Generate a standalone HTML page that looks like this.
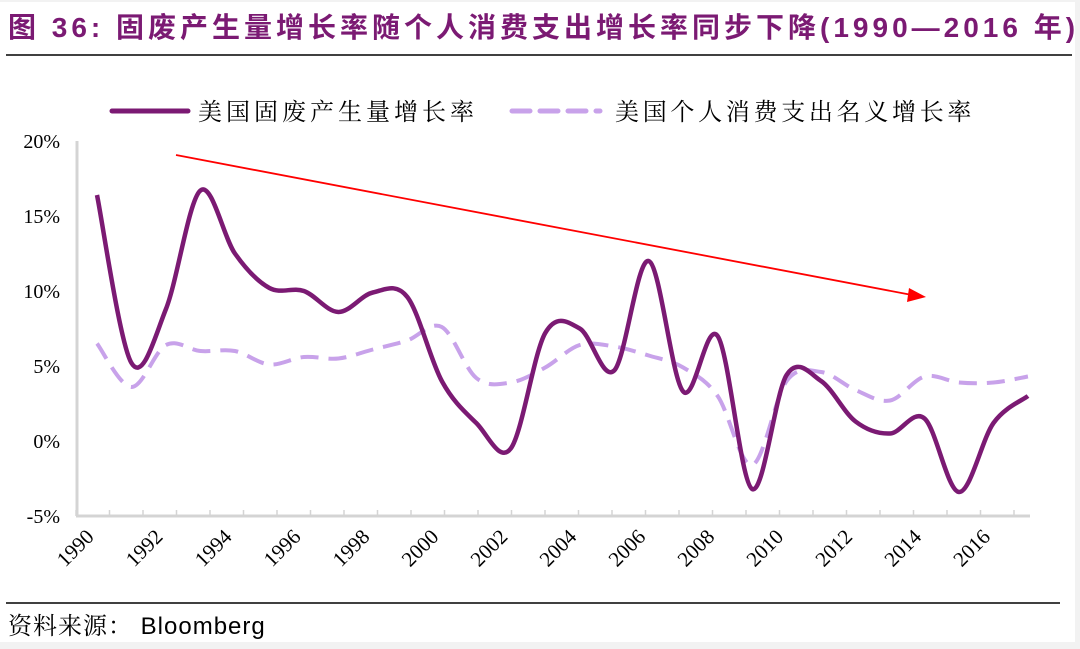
<!DOCTYPE html>
<html><head><meta charset="utf-8"><style>
html,body{margin:0;padding:0;}
body{width:1080px;height:649px;background:#f2f2f2;position:relative;overflow:hidden;font-family:"Liberation Serif","Noto Serif CJK SC",serif;}
#page{position:absolute;left:0;top:2px;width:1075px;height:640px;background:#fff;}
.title{position:absolute;left:8px;top:6px;font-family:"Liberation Sans","Noto Sans CJK SC",sans-serif;font-weight:bold;font-size:28px;color:#7b1a73;white-space:nowrap;letter-spacing:4px;}
.src{position:absolute;left:8px;top:606px;font-size:24px;font-family:"Liberation Sans","Noto Serif CJK SC",sans-serif;color:#000;letter-spacing:1px;}
</style></head><body>
<div id="page"></div>
<div class="title">图 36: 固废产生量增长率随个人消费支出增长率同步下降(1990—2016 年)</div>
<svg width="1080" height="649" style="position:absolute;left:0;top:0">
<line x1="6" y1="55" x2="1072" y2="55" stroke="#000" stroke-width="1.5"/>
<line x1="6" y1="603" x2="1060" y2="603" stroke="#000" stroke-width="1.5"/>
<g id="axes" stroke="#d4d4d4" stroke-width="3" fill="none">
<line x1="77" y1="141" x2="77" y2="516"/>
<line x1="76" y1="516" x2="1030" y2="516"/>
</g>
<g id="ticks" stroke="#d4d4d4" stroke-width="1.5"></g>
<g font-size="20" fill="#000" text-anchor="end" font-family="Liberation Serif,serif">
<text x="60" y="148">20%</text><text x="60" y="223">15%</text><text x="60" y="298">10%</text>
<text x="60" y="373">5%</text><text x="60" y="448">0%</text><text x="60" y="523">-5%</text>
</g>
<g id="xl" font-size="21" fill="#000" font-family="Liberation Serif,serif"></g>
<line x1="176" y1="155" x2="912" y2="295" stroke="#ff0000" stroke-width="1.8"/>
<polygon points="926,297 909,288 907,302" fill="#ff0000"/>
<line x1="112" y1="111" x2="188" y2="111" stroke="#7b1a73" stroke-width="5" stroke-linecap="round"/>
<text x="198" y="120" font-size="24" letter-spacing="4" font-family="Noto Serif CJK SC,serif">美国固废产生量增长率</text>
<line x1="512" y1="111" x2="600" y2="111" stroke="#c8a2ea" stroke-width="5" stroke-dasharray="18,10" stroke-linecap="round"/>
<text x="615" y="120" font-size="24" letter-spacing="3.7" font-family="Noto Serif CJK SC,serif">美国个人消费支出名义增长率</text>
<path id="p2" fill="none" stroke="#c8a2ea" stroke-width="4" stroke-dasharray="18,10"/>
<path id="p1" fill="none" stroke="#7b1a73" stroke-width="4.5"/>
</svg>
<div class="src">资料来源：&nbsp;Bloomberg</div>
<script>
var a=[16.4,5.2,8.8,16.7,12.5,10.2,10.0,8.6,9.9,9.6,4.0,1.2,-0.5,7.2,7.5,4.7,12.0,3.3,7.0,-3.2,4.4,4.0,1.3,0.5,1.5,-3.4,1.2,3.0];
var b=[6.5,3.6,6.4,6.0,6.0,5.1,5.6,5.5,6.1,6.7,7.6,4.2,3.9,4.9,6.4,6.3,5.7,4.9,3.0,-1.6,4.0,4.6,3.4,2.7,4.3,3.9,3.9,4.3];
function X(i){return 97+i*34.48;}function Y(v){return 441-v*15;}
function path(d){var p=d.map(function(v,i){return[X(i),Y(v)];});var s="M"+p[0][0]+","+p[0][1];
for(var i=0;i<p.length-1;i++){var p0=p[i-1]||p[i],p1=p[i],p2=p[i+1],p3=p[i+2]||p2;var t=6;
s+=" C"+(p1[0]+(p2[0]-p0[0])/t)+","+(p1[1]+(p2[1]-p0[1])/t)+" "+(p2[0]-(p3[0]-p1[0])/t)+","+(p2[1]-(p3[1]-p1[1])/t)+" "+p2[0]+","+p2[1];}return s;}
document.getElementById("p1").setAttribute("d",path(a));
document.getElementById("p2").setAttribute("d",path(b));
var ns="http://www.w3.org/2000/svg",tk=document.getElementById("ticks"),xl=document.getElementById("xl");
for(var i=0;i<=28;i++){var x=76+i*33.5;if(x>1030)break;var l=document.createElementNS(ns,"line");l.setAttribute("x1",x);l.setAttribute("x2",x);l.setAttribute("y1",510);l.setAttribute("y2",516);tk.appendChild(l);}
for(var y=1990;y<=2016;y+=2){var t=document.createElementNS(ns,"text");var x=97+(y-1990)*34.48-2;t.setAttribute("transform","translate("+x+",538) rotate(-45)");t.setAttribute("text-anchor","end");t.textContent=y;xl.appendChild(t);}
</script>
</body></html>
